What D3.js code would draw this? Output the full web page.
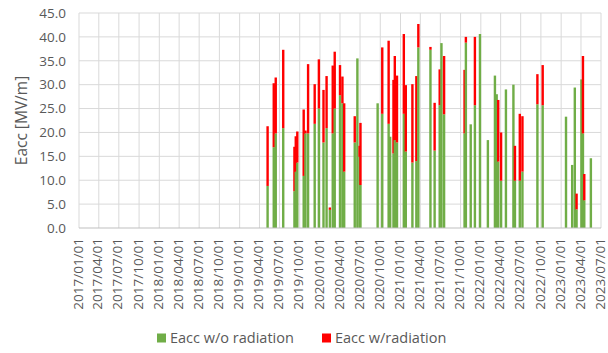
<!DOCTYPE html>
<html>
<head>
<meta charset="utf-8">
<script src="https://cdn.jsdelivr.net/npm/d3@7"></script>
<style>
  body { margin: 0; background: #fff; }
  text { font-family: "Open Sans", sans-serif; fill: #595959; }
</style>
</head>
<body>
<div id="chart-container"></div>
<script>
const w = 608;
const h = 353;

// measurement dates
const dates = [
  "2019/05/08", "2019/06/05", "2019/06/14", "2019/07/18", "2019/09/07", "2019/09/13",
  "2019/09/20", "2019/10/19", "2019/10/27", "2019/11/08", "2019/12/08", "2019/12/27",
  "2020/01/17", "2020/01/31", "2020/02/15", "2020/02/28", "2020/03/08", "2020/04/01",
  "2020/04/12", "2020/04/20", "2020/06/07", "2020/06/19", "2020/06/29", "2020/07/03",
  "2020/09/19", "2020/10/10", "2020/11/08", "2020/11/15", "2020/11/30", "2020/12/06",
  "2020/12/16", "2021/01/16", "2021/01/25", "2021/02/24", "2021/03/14", "2021/03/23",
  "2021/05/17", "2021/06/05", "2021/06/28", "2021/07/06", "2021/07/18", "2021/10/19",
  "2021/10/25", "2021/11/16", "2021/12/05", "2021/12/28", "2022/02/02", "2022/03/06",
  "2022/03/14", "2022/03/21", "2022/04/03", "2022/04/25", "2022/05/29", "2022/06/05",
  "2022/06/27", "2022/07/09", "2022/09/15", "2022/10/09", "2023/01/23", "2023/02/20",
  "2023/03/04", "2023/03/12", "2023/04/03", "2023/04/10", "2023/04/16", "2023/05/16"
];
// Eacc w/o radiation
const eaccNoRad = [
  8.8, 16.9, 19.8, 20.9, 7.7, 11.8,
  13.7, 10.9, 19.8, 19.8, 21.8, 25.0,
  17.9, 20.9, 3.8, 19.8, 25.0, 27.8,
  26.1, 11.8, 17.9, 35.5, 14.9, 9.0,
  26.1, 23.9, 21.8, 19.1, 15.6, 18.4,
  17.9, 23.9, 16.0, 13.7, 14.0, 37.8,
  37.3, 16.2, 25.7, 38.7, 23.8, 19.8,
  38.8, 21.7, 25.7, 40.6, 18.4, 31.9,
  28.0, 13.9, 9.9, 29.0, 30.0, 9.9,
  9.9, 11.8, 25.9, 25.7, 23.3, 13.2,
  29.4, 3.9, 31.1, 19.8, 5.8, 14.6
];
// extra gain w/ radiation (stacked on top)
const eaccRad = [
  12.5, 13.4, 11.7, 16.4, 9.3, 7.4,
  6.5, 13.9, 0.6, 14.5, 8.3, 10.3,
  11.0, 10.9, 0.5, 14.2, 11.9, 6.3,
  5.6, 14.3, 5.5, 0, 2.3, 13.0,
  0, 13.9, 17.4, 0, 15.4, 17.6,
  14.0, 16.7, 13.9, 16.4, 17.8, 4.9,
  0.6, 10.0, 7.5, 0, 12.2, 13.3,
  1.2, 0, 14.3, 0, 0, 0,
  0, 12.9, 10.1, 0, 0, 7.3,
  14.0, 11.6, 6.3, 8.4, 0, 0,
  0, 3.3, 0, 16.2, 5.5, 0
];

const xTickLabels = [
  "2017/01/01", "2017/04/01", "2017/07/01", "2017/10/01", "2018/01/01", "2018/04/01",
  "2018/07/01", "2018/10/01", "2019/01/01", "2019/04/01", "2019/07/01", "2019/10/01",
  "2020/01/01", "2020/04/01", "2020/07/01", "2020/10/01", "2021/01/01", "2021/04/01",
  "2021/07/01", "2021/10/01", "2022/01/01", "2022/04/01", "2022/07/01", "2022/10/01",
  "2023/01/01", "2023/04/01", "2023/07/01"
];
const yTicks = [0, 5, 10, 15, 20, 25, 30, 35, 40, 45];
const seriesNames = ["Eacc w/o radiation", "Eacc w/radiation"];
const colors = ["#70ad47", "#ff0000"];

const parse = d3.timeParse("%Y/%m/%d");
const tickDates = xTickLabels.map(parse);

const margin = { left: 79, right: 7, top: 13, bottom: 125 };

const x = d3.scaleTime()
  .domain([tickDates[0], tickDates[tickDates.length - 1]])
  .range([margin.left, w - margin.right]);
const y = d3.scaleLinear()
  .domain([0, 45])
  .range([h - margin.bottom, margin.top]);

const svg = d3.select("#chart-container")
  .append("svg")
  .attr("width", w)
  .attr("height", h);

svg.append("rect").attr("width", w).attr("height", h).attr("fill", "#fff");

// gridlines
svg.append("g")
  .selectAll("line")
  .data(yTicks.slice(1))
  .join("line")
  .attr("x1", margin.left).attr("x2", w - margin.right)
  .attr("y1", d => y(d)).attr("y2", d => y(d))
  .attr("stroke", "#d9d9d9");
svg.append("g")
  .selectAll("line")
  .data(tickDates)
  .join("line")
  .attr("x1", d => x(d)).attr("x2", d => x(d))
  .attr("y1", y(0)).attr("y2", y(45))
  .attr("stroke", "#d9d9d9");

// bars
const data = dates.map((d, i) => ({ date: parse(d), g: eaccNoRad[i], r: eaccRad[i] }));
const bw = 2.4;
const bars = svg.append("g").selectAll("g").data(data).join("g");
bars.append("rect")
  .attr("x", d => x(d.date) - bw / 2)
  .attr("width", bw)
  .attr("y", d => y(d.g))
  .attr("height", d => y(0) - y(d.g))
  .attr("fill", colors[0]);
bars.filter(d => d.r > 0).append("rect")
  .attr("x", d => x(d.date) - bw / 2)
  .attr("width", bw)
  .attr("y", d => y(d.g + d.r))
  .attr("height", d => y(d.g) - y(d.g + d.r))
  .attr("fill", colors[1]);

// x axis line
svg.append("line")
  .attr("x1", margin.left).attr("x2", w - margin.right)
  .attr("y1", y(0)).attr("y2", y(0))
  .attr("stroke", "#bfbfbf");

// y tick labels
const fmt = d3.format(".1f");
svg.append("g")
  .selectAll("text")
  .data(yTicks)
  .join("text")
  .attr("x", 66)
  .attr("y", d => y(d))
  .attr("dy", "0.35em")
  .attr("text-anchor", "end")
  .style("font-size", "13.5px")
  .text(d => fmt(d));

// x tick labels, rotated
svg.append("g")
  .selectAll("text")
  .data(xTickLabels)
  .join("text")
  .attr("transform", (d, i) => `translate(${x(tickDates[i])},${y(0) + 10}) rotate(-90)`)
  .attr("dy", "0.27em")
  .attr("text-anchor", "end")
  .style("font-size", "13.5px")
  .text(d => d);

// y axis title
svg.append("text")
  .attr("transform", `translate(22,${(y(0) + y(45)) / 2}) rotate(-90)`)
  .attr("text-anchor", "middle")
  .attr("dy", "0.35em")
  .style("font-size", "15.5px")
  .text("Eacc [MV/m]");

// legend
const legX = [157, 322];
const leg = svg.append("g")
  .selectAll("g")
  .data(seriesNames)
  .join("g")
  .attr("transform", (d, i) => `translate(${legX[i]},333)`);
leg.append("rect").attr("width", 9).attr("height", 9).attr("y", 0.5)
  .attr("fill", (d, i) => colors[i]);
leg.append("text")
  .attr("x", 13).attr("y", 5).attr("dy", "0.35em")
  .style("font-size", "14.5px")
  .text(d => d);
</script>
</body>
</html>
